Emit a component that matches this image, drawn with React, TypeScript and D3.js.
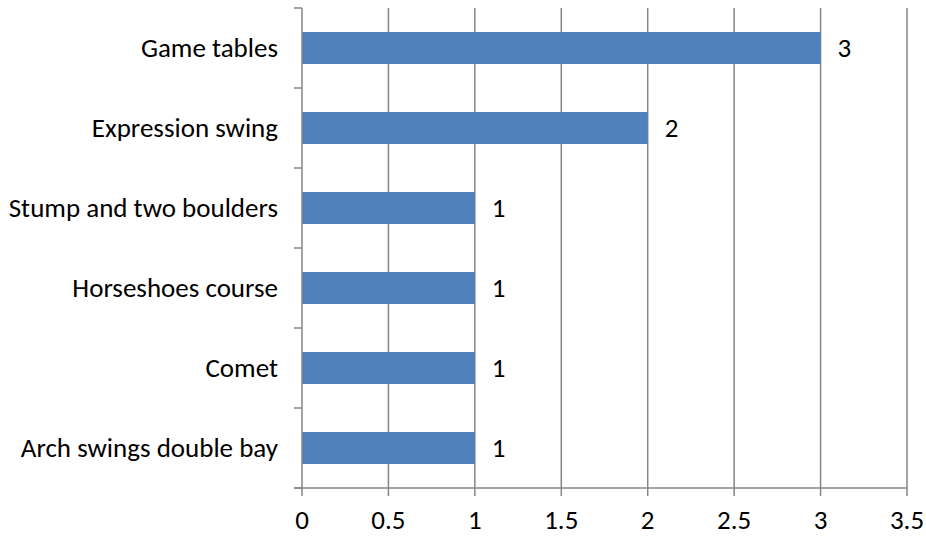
import React from "react";
import * as d3 from "d3";

const categories = [
  "Game tables",
  "Expression swing",
  "Stump and two boulders",
  "Horseshoes course",
  "Comet",
  "Arch swings double bay",
];
const counts = [3, 2, 1, 1, 1, 1];
const xTicks = [0, 0.5, 1, 1.5, 2, 2.5, 3, 3.5];

export default function App() {
  const width = 926;
  const height = 539;
  const left = 302;
  const right = 907;
  const top = 8;
  const bottom = 488;

  const x = d3.scaleLinear().domain([0, 3.5]).range([left, right]);
  const y = d3
    .scaleBand<string>()
    .domain(categories)
    .range([top, bottom])
    .paddingInner(0.6)
    .paddingOuter(0.3);
  const band = d3.scaleBand<string>().domain(categories).range([top, bottom]);

  const font = "Carlito, Calibri, Lato, sans-serif";
  const grey = "#868686";
  const fs = 27;

  return (
    <svg
      width={width}
      height={height}
      style={{ position: "absolute", left: 0, top: 0 }}
      fontFamily={font}
    >
      <rect width={width} height={height} fill="#fff" />
      {/* vertical gridlines */}
      {xTicks.slice(1).map((t) => (
        <line
          key={"g" + t}
          x1={x(t)}
          x2={x(t)}
          y1={top}
          y2={bottom}
          stroke={grey}
          strokeWidth={1.5}
        />
      ))}
      {/* bars */}
      {categories.map((c, i) => (
        <g key={c}>
          <rect
            x={x(0)}
            y={y(c)}
            width={x(counts[i]) - x(0)}
            height={y.bandwidth()}
            fill="#4F81BD"
          />
          <text
            x={x(counts[i]) + 17}
            y={(y(c) as number) + y.bandwidth() / 2}
            dy="0.35em"
            fontSize={fs}
            fill="#000"
          >
            {counts[i]}
          </text>
          <text
            x={278}
            y={(band(c) as number) + band.bandwidth() / 2}
            dy="0.35em"
            textAnchor="end"
            fontSize={fs}
            fill="#000"
          >
            {c}
          </text>
        </g>
      ))}
      {/* y axis */}
      <line x1={left} x2={left} y1={top} y2={bottom} stroke={grey} strokeWidth={1.5} />
      {[...categories.map((c) => band(c) as number), bottom].map((v, i) => (
        <line key={"yt" + i} x1={left - 8} x2={left} y1={v} y2={v} stroke={grey} strokeWidth={1.5} />
      ))}
      {/* x axis */}
      <line x1={left - 8} x2={right} y1={bottom} y2={bottom} stroke={grey} strokeWidth={1.5} />
      {xTicks.map((t) => (
        <g key={"xt" + t}>
          <line x1={x(t)} x2={x(t)} y1={bottom} y2={bottom + 8} stroke={grey} strokeWidth={1.5} />
          <text x={x(t)} y={529} textAnchor="middle" fontSize={fs} fill="#000">
            {t}
          </text>
        </g>
      ))}
    </svg>
  );
}
